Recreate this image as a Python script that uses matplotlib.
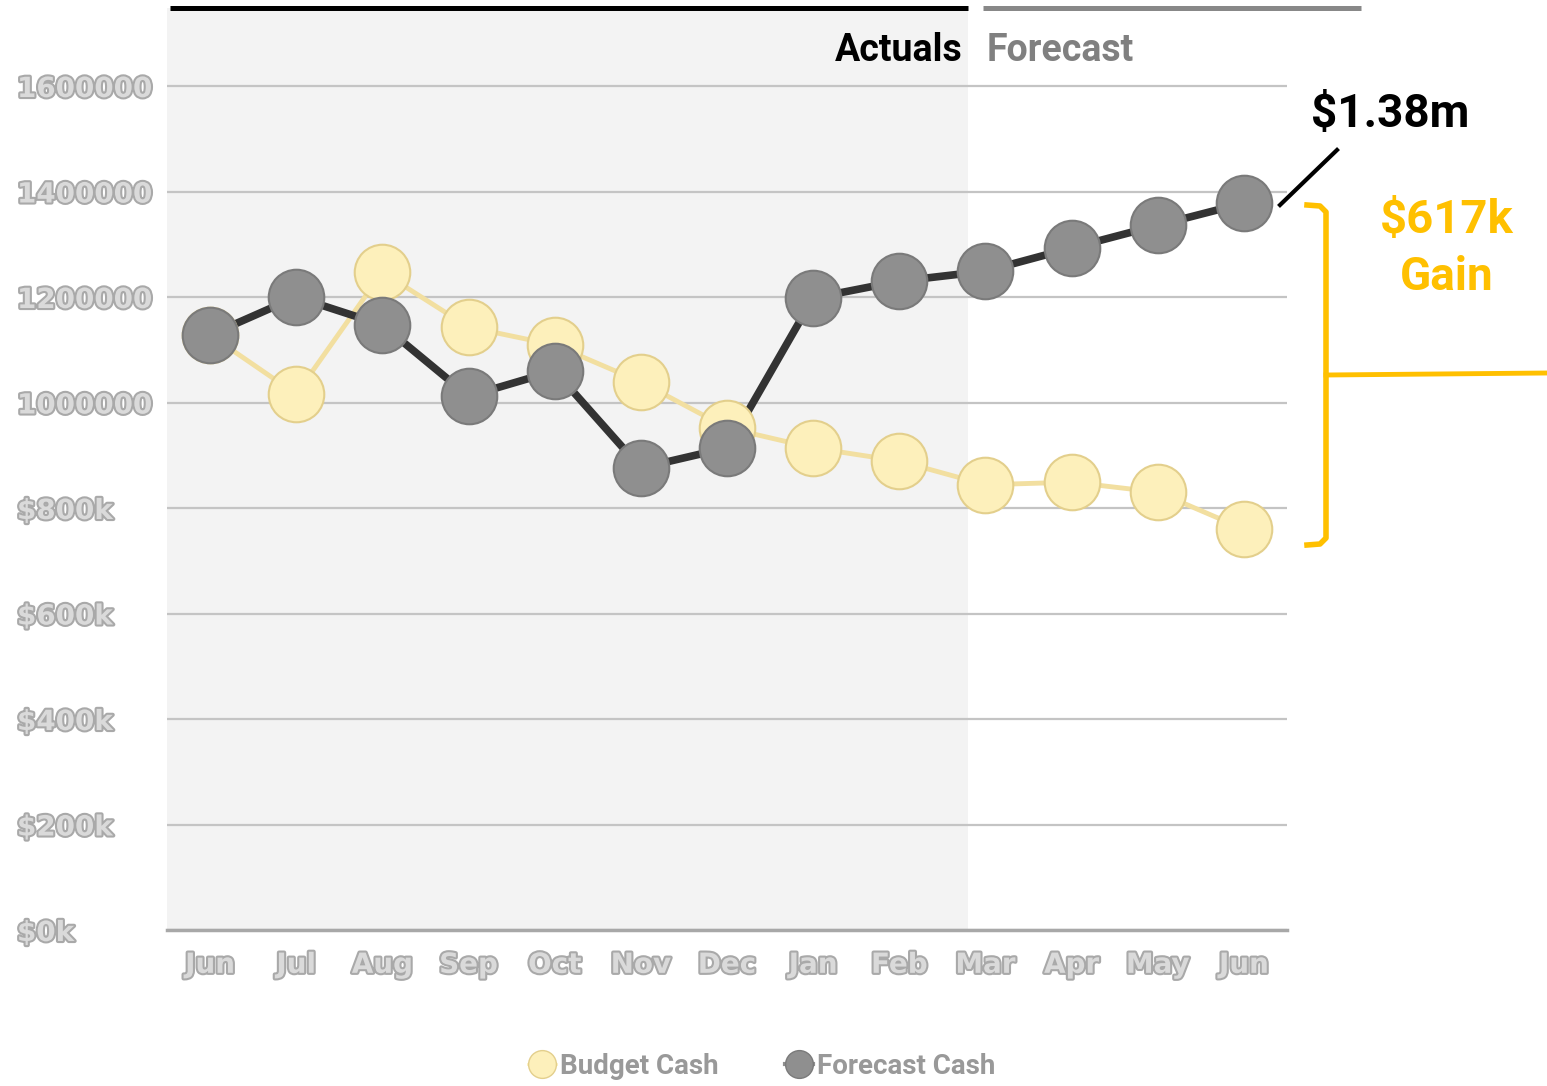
import numpy as np
import matplotlib
matplotlib.use('Agg')
import matplotlib.pyplot as plt
import matplotlib.patheffects as pe
from matplotlib.ticker import FuncFormatter
from matplotlib.transforms import blended_transform_factory
from matplotlib.lines import Line2D

# data
months = ['Jun', 'Jul', 'Aug', 'Sep', 'Oct', 'Nov', 'Dec',
          'Jan', 'Feb', 'Mar', 'Apr', 'May', 'Jun']
budget_cash = [1128000, 1016000, 1247000, 1143000, 1109000, 1039000, 952000,
               914000, 889000, 844000, 849000, 830000, 760000]
forecast_cash = [1128000, 1200000, 1147000, 1012000, 1060000, 876000, 914000,
                 1198000, 1230000, 1249000, 1293000, 1336000, 1378000]
y_ticks = [0, 200000, 400000, 600000, 800000, 1000000, 1200000, 1400000, 1600000]
actuals_end = 8.8  # split between actuals and forecast

W, H = 1547, 1086
fig = plt.figure(figsize=(W / 100, H / 100), dpi=100)
ax = fig.add_axes([167 / W, 1 - 930 / H, 1120 / W, 922 / H])

def fx(px):
    return px / W

def fy(py):
    return 1 - py / H

x = np.arange(len(months))
ax.set_xlim(-0.5, len(months) - 0.5)
ax.set_ylim(0, 1600000 * 922 / 844)

# shaded actuals region
ax.axvspan(-0.5, actuals_end, color='#f3f3f3', zorder=0, lw=0)

ax.set_yticks(y_ticks)
ax.yaxis.grid(True, color='#c4c4c4', lw=1.6)
ax.set_axisbelow(True)

for s in ['top', 'right', 'left']:
    ax.spines[s].set_visible(False)
ax.spines['bottom'].set_color('#a8a8a8')
ax.spines['bottom'].set_linewidth(2.5)

# lines
ax.plot(x, budget_cash, color='#f2dfa0', lw=3.5, zorder=2)
ax.plot(x, forecast_cash, color='#333333', lw=5.5, zorder=3)
ax.plot(x, budget_cash, ls='none', marker='o', ms=40,
        mfc='#fdf0bb', mec='#e3cf8c', mew=1.5, zorder=4)
ax.plot(x, forecast_cash, ls='none', marker='o', ms=40,
        mfc='#8f8f8f', mec='#7a7a7a', mew=1.5, zorder=5)

# tick labels, outlined style
outline = [pe.withStroke(linewidth=3, foreground='#a9a9a9')]
def money(v, pos):
    if v >= 1000000:
        return f'{int(v)}'
    return f'${v / 1000:.0f}k'
ax.yaxis.set_major_formatter(FuncFormatter(money))
ax.tick_params(axis='y', length=0, pad=108)
ax.set_xticks(x)
ax.set_xticklabels(months)
ax.tick_params(axis='x', length=0, pad=15)
for lab in ax.get_yticklabels():
    lab.set_horizontalalignment('left')
    lab.set_fontsize(20)
    lab.set_fontweight('bold')
    lab.set_color('#dadada')
    lab.set_path_effects(outline)
for lab in ax.get_xticklabels():
    lab.set_fontsize(20)
    lab.set_fontweight('bold')
    lab.set_color('#dadada')
    lab.set_path_effects(outline)

# actuals / forecast headers
trans = blended_transform_factory(ax.transData, ax.transAxes)
ax.plot([-0.47, actuals_end], [1, 1], color='black', lw=3.6,
        transform=trans, clip_on=False, solid_capstyle='butt')
ax.plot([8.97, 13.36], [1, 1], color='#888888', lw=3.6,
        transform=trans, clip_on=False, solid_capstyle='butt')
ax.text(8.74, (930 - 61) / 922, 'Actuals', transform=trans, ha='right',
        va='baseline', fontsize=27, fontweight='bold', family='Roboto',
        color='black')
ax.text(9.01, (930 - 61) / 922, 'Forecast', transform=trans, ha='left',
        va='baseline', fontsize=27, fontweight='bold', family='Roboto',
        color='#808080')

# annotations
gold = '#FFC000'
fig.text(fx(1311), fy(127), '$1.38m', ha='left', va='baseline',
         fontsize=33, fontweight='bold', family='Roboto', color='black')
fig.add_artist(Line2D([fx(1280), fx(1337)], [fy(205), fy(150)],
                      color='black', lw=3))
fig.text(fx(1447), fy(233), '$617k', ha='center', va='baseline',
         fontsize=34, fontweight='bold', family='Roboto', color=gold)
fig.text(fx(1447), fy(290), 'Gain', ha='center', va='baseline',
         fontsize=33, fontweight='bold', family='Roboto', color=gold)
fig.add_artist(Line2D([fx(1307), fx(1320), fx(1326), fx(1326), fx(1320), fx(1307)],
                      [fy(205), fy(206), fy(212), fy(538), fy(544), fy(545)],
                      color=gold, lw=4, solid_joinstyle='round'))
fig.add_artist(Line2D([fx(1326), fx(1547)], [fy(375), fy(373)],
                      color=gold, lw=3.5))

# legend
h1 = Line2D([], [], color='#fdf0bb', lw=2, marker='o', ms=40,
            mfc='#fdf0bb', mec='#e3cf8c')
h2 = Line2D([], [], color='#8f8f8f', lw=3, marker='o', ms=40,
            mfc='#8f8f8f', mec='#7a7a7a')
fig.legend([h1, h2], ['Budget Cash', 'Forecast Cash'], loc='center',
           bbox_to_anchor=(fx(762), fy(1066)), ncol=2, frameon=False,
           markerscale=0.5, handlelength=1.0, handletextpad=0.15,
           columnspacing=2.4, labelcolor='#999999',
           prop={'family': 'Roboto', 'weight': 'bold', 'size': 20})

fig.savefig('out.png', dpi=100)
